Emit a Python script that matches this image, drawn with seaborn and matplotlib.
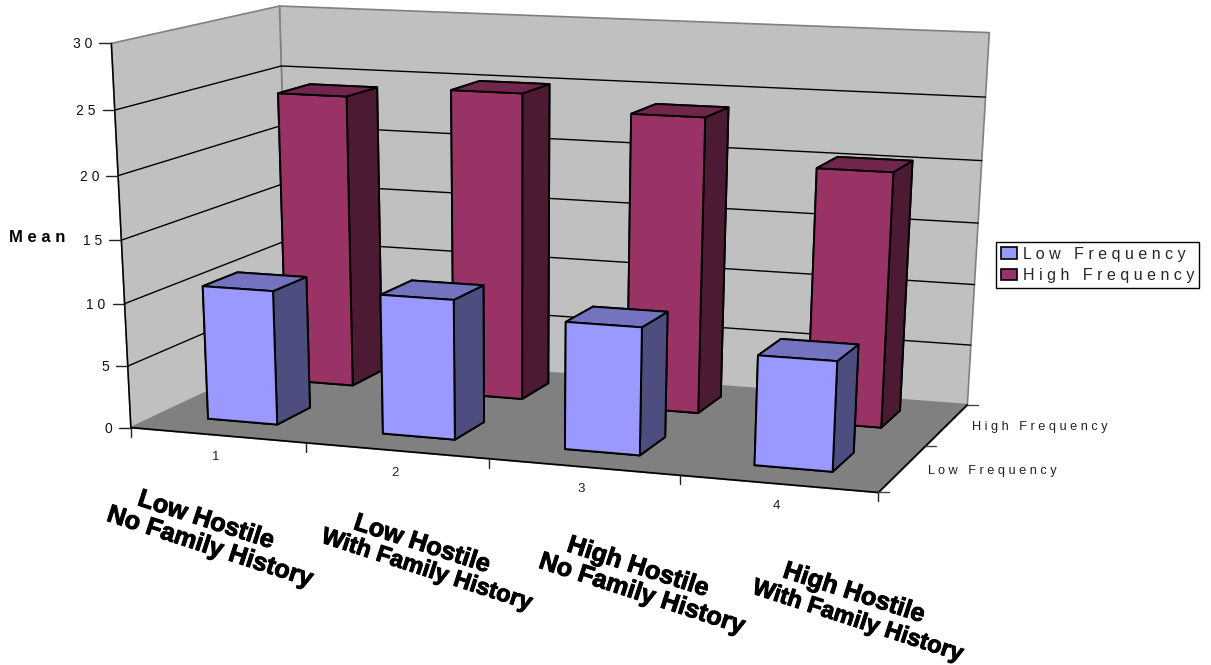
import numpy as np
import matplotlib
matplotlib.use("Agg")
import matplotlib.pyplot as plt
import matplotlib.patheffects as pe
from matplotlib.patches import Patch
from mpl_toolkits.mplot3d.art3d import Poly3DCollection
import seaborn as sns

# ---- data ----
group_ticks = ["1", "2", "3", "4"]
group_labels = [
    ["Low Hostile", "No Family History"],
    ["Low Hostile", "With Family History"],
    ["High Hostile", "No Family History"],
    ["High Hostile", "With Family History"],
]
series_names = ["Low Frequency", "High Frequency"]
low_frequency = [10.8, 11.1, 10.0, 8.5]
high_frequency = [24.1, 25.0, 23.8, 20.3]
value_ticks = [0, 5, 10, 15, 20, 25, 30]

# ---- style ----
sns.set_theme(style="white")
plt.rcParams["font.family"] = ["Liberation Sans", "DejaVu Sans"]
front_colors = sns.color_palette(["#9999FF", "#993366"])
top_colors = sns.color_palette(["#7373BF", "#73264D"])
side_colors = sns.color_palette(["#4D4D80", "#4D1A33"])
WALL = "#C0C0C0"
FLOOR = "#808080"
BAR_WIDTH = 0.40
BAR_DEPTH = 0.42
BAR_START = 0.29
ROW_START = 0.32

X_MAX, Y_MAX, Z_MAX = len(group_ticks), len(series_names), value_ticks[-1]

# Camera: corners of the plot box in (x, y, value) and where they sit on the canvas.
box_corners = np.array([
    (0, 0, 0), (X_MAX, 0, 0), (X_MAX, Y_MAX, 0), (0, Y_MAX, 0),
    (0, 0, Z_MAX), (0, Y_MAX, Z_MAX), (X_MAX, Y_MAX, Z_MAX),
], dtype=float)
canvas_corners = np.array([
    (132.5, 426.5), (878, 494), (968, 403), (288, 354),
    (110, 43), (281, 6), (989, 33),
], dtype=float)


def fit_camera(world, canvas):
    rows = []
    for (x, y, z), (u, v) in zip(world, canvas):
        rows.append([x, y, z, 1, 0, 0, 0, 0, -u * x, -u * y, -u * z, -u])
        rows.append([0, 0, 0, 0, x, y, z, 1, -v * x, -v * y, -v * z, -v])
    vec = np.linalg.svd(np.array(rows))[2][-1]
    cam = vec.reshape(3, 4)
    return cam / cam[2, 3]


camera = fit_camera(box_corners, canvas_corners)
proj_matrix = np.vstack([camera[0], camera[1], [0, 0, 0, -1], camera[2]])


def to_canvas(x, y, z):
    u, v, w = camera @ np.array([x, y, z, 1.0])
    return u / w, v / w


def spaced(text):
    return " ".join(text)


fig = plt.figure(figsize=(12.11, 6.65), dpi=100, facecolor="white")
ax = fig.add_axes([0, 0, 1, 1], projection="3d", computed_zorder=False)
ax.set_axis_off()
ax.set_proj_type("ortho")
ax.get_proj = lambda: proj_matrix
ax.apply_aspect = lambda position=None: None

# Walls and floor
walls = Poly3DCollection(
    [[(0, 0, 0), (0, Y_MAX, 0), (0, Y_MAX, Z_MAX), (0, 0, Z_MAX)],
     [(0, Y_MAX, 0), (X_MAX, Y_MAX, 0), (X_MAX, Y_MAX, Z_MAX), (0, Y_MAX, Z_MAX)]],
    facecolors=WALL, edgecolors="#808080", linewidths=1.2, zorder=1)
floor = Poly3DCollection(
    [[(0, 0, 0), (X_MAX, 0, 0), (X_MAX, Y_MAX, 0), (0, Y_MAX, 0)]],
    facecolors=FLOOR, edgecolors=FLOOR, linewidths=0.8, zorder=2)
ax.add_collection3d(walls)
ax.add_collection3d(floor)

# Gridlines along both walls
for v in value_ticks[1:-1]:
    ax.plot([0, 0, X_MAX], [0, Y_MAX, Y_MAX], [v, v, v], color="black", lw=1.0, zorder=3)

# Box edges in black
ax.plot([0, 0], [0, 0], [0, Z_MAX], color="black", lw=1.1, zorder=4)
ax.plot([0, X_MAX, X_MAX], [0, 0, Y_MAX], [0, 0, 0], color="black", lw=1.2, zorder=4)

# Bars: high-frequency row first so the low-frequency row sits in front of it
for row, values in reversed(list(enumerate([low_frequency, high_frequency]))):
    for i, val in enumerate(values):
        faces = [top_colors[row]] * 2 + [front_colors[row]] * 2 + [side_colors[row]] * 2
        ax.bar3d(i + BAR_START, row + ROW_START, 0, BAR_WIDTH, BAR_DEPTH, val,
                 color=faces, shade=False, edgecolor="black", linewidth=1.4,
                 zorder=10 + (1 - row) * 10 + i)

# Keep the 2D limits in canvas pixels, y pointing down
ax.viewLim.intervalx = (0, 1211)
ax.viewLim.intervaly = (665, 0)

# Value axis labels and ticks
for v in value_ticks:
    u0, v0 = to_canvas(0, 0, v)
    ax.add_line(plt.Line2D([u0 - 12, u0], [v0, v0], color="#222222", lw=1.0, zorder=4))
    ax.text2D(u0 - 19, v0 + 1, spaced(str(v)), ha="right", va="center", fontsize=10,
              color="#111111", transform=ax.transData)
ax.text2D(9, 237, spaced("Mean"), ha="left", va="center", fontsize=12,
          fontweight="bold", color="black", transform=ax.transData)

# Category ticks and labels
for i in range(X_MAX + 1):
    u0, v0 = to_canvas(i, 0, 0)
    ax.add_line(plt.Line2D([u0, u0], [v0, v0 + 9], color="#222222", lw=1.0, zorder=4))
for i, tick in enumerate(group_ticks):
    u0, v0 = to_canvas(i + 0.5, 0, 0)
    ax.text2D(u0 - 2, v0 + 22, tick, ha="center", va="center", fontsize=9.5,
              color="#222222", transform=ax.transData)

# Two-line group captions, each line slanted and placed on its own
caption_slant = -18
caption_centers = [
    [(206, 520), (210, 547)],
    [(422, 544), (427, 570)],
    [(638, 567), (642, 594)],
    [(854, 593), (858, 621)],
]
for centers, lines in zip(caption_centers, group_labels):
    for (cx, cy), line in zip(centers, lines):
        size = 17 if line.startswith("With") else 18.2
        ax.text2D(cx, cy, line, ha="center", va="center", rotation=caption_slant,
                  rotation_mode="anchor", fontsize=size, fontweight="bold",
                  color="black", transform=ax.transData,
                  path_effects=[pe.withStroke(linewidth=0.7, foreground="black")])

# Series axis ticks and labels
for j in range(Y_MAX + 1):
    u0, v0 = to_canvas(X_MAX, j, 0)
    ax.add_line(plt.Line2D([u0, u0 + 11], [v0, v0], color="#444444", lw=1.0, zorder=4))
for j, name in enumerate(series_names):
    u0, v0 = to_canvas(X_MAX, j + 0.5, 0)
    ax.text2D(u0 + 25, v0 + 2, spaced(name), ha="left", va="center", fontsize=9.2,
              color="#222222", transform=ax.transData)

# Legend
handles = [Patch(facecolor=front_colors[k], edgecolor="black", linewidth=1.2)
           for k in range(2)]
ax.legend(handles, [spaced(n) for n in series_names], loc="center",
          bbox_to_anchor=(1097.5 / 1211, 1 - 265 / 665), bbox_transform=fig.transFigure,
          fontsize=11.5, frameon=True, fancybox=False, framealpha=1, edgecolor="black",
          borderpad=0.32, labelspacing=0.42, handlelength=1.0, handleheight=0.72,
          handletextpad=0.35, borderaxespad=0)

fig.savefig("out.png", dpi=100)
